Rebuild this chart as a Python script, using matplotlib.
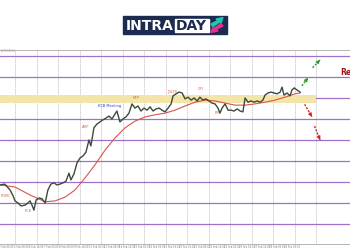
import matplotlib.pyplot as plt
import numpy as np
from matplotlib.patches import Rectangle, Polygon

# -----------------------------------------------------------------------------
# Data (bar index, price)
# -----------------------------------------------------------------------------
price_x = [-7.0, -4.7, -2.3, -0.9, 0.0, 1.4, 2.8, 4.7, 6.0, 7.0, 7.9, 8.8, 9.8,
           11.2, 12.6, 14.0, 15.3, 16.7, 18.1, 19.5, 20.9, 22.3, 23.7, 25.1,
           26.0, 27.4, 28.8, 30.2, 31.6, 33.0, 34.4, 35.3, 36.7, 38.1, 39.5,
           40.9, 42.3, 43.7, 45.1, 46.5, 47.4, 48.8, 50.2, 51.6, 53.0, 54.4,
           55.8, 57.2, 58.6, 60.0, 61.4, 62.8, 64.2, 65.6, 67.0, 68.4, 69.8,
           71.2, 72.6, 73.5, 74.9, 76.3, 77.7, 79.1, 80.5, 81.9, 83.3, 84.7,
           86.0, 87.4, 88.8, 90.2, 91.6, 93.0, 94.4, 95.3, 96.3, 97.7, 99.1,
           100.5, 101.9, 103.3, 104.7, 106.0, 107.0, 108.4, 109.8, 111.2,
           112.6, 114.0, 115.3, 116.3, 117.7, 119.1, 120.5, 121.9, 123.3,
           124.2, 125.1, 126.5, 127.9, 128.8, 129.8, 131.2, 132.6]
price_y = [1.0743, 1.0745, 1.0731, 1.0717, 1.0705, 1.0700, 1.0693, 1.0695,
           1.0700, 1.0705, 1.0695, 1.0683, 1.0707, 1.0712, 1.0710, 1.0700,
           1.0731, 1.0745, 1.0748, 1.0743, 1.0745, 1.0748, 1.0752, 1.0771,
           1.0755, 1.0769, 1.0795, 1.0807, 1.0812, 1.0821, 1.0850, 1.0836,
           1.0879, 1.0888, 1.0893, 1.0898, 1.0902, 1.0907, 1.0900, 1.0912,
           1.0919, 1.0893, 1.0900, 1.0905, 1.0914, 1.0936, 1.0926, 1.0931,
           1.0919, 1.0926, 1.0921, 1.0929, 1.0919, 1.0924, 1.0926, 1.0921,
           1.0917, 1.0926, 1.0936, 1.0955, 1.0960, 1.0964, 1.0962, 1.0948,
           1.0952, 1.0945, 1.0950, 1.0943, 1.0952, 1.0945, 1.0948, 1.0943,
           1.0938, 1.0936, 1.0926, 1.0914, 1.0926, 1.0936, 1.0921, 1.0921,
           1.0919, 1.0924, 1.0919, 1.0917, 1.0950, 1.0940, 1.0943, 1.0940,
           1.0943, 1.0940, 1.0945, 1.0957, 1.0962, 1.0964, 1.0962, 1.0960,
           1.0964, 1.0976, 1.0957, 1.0962, 1.0955, 1.0969, 1.0974, 1.0969,
           1.0964]

ma_x = [-7.0, 0.0, 7.0, 14.0, 18.6, 23.3, 27.9, 32.6, 37.2, 41.9, 46.5, 51.2,
        55.8, 60.5, 65.1, 69.8, 74.4, 79.1, 83.7, 88.4, 93.0, 97.7, 102.3,
        107.0, 111.6, 116.3, 120.9, 125.6, 130.2, 132.6]
ma_y = [1.0743, 1.0738, 1.0719, 1.0703, 1.0705, 1.0714, 1.0731, 1.0760,
        1.0791, 1.0826, 1.0855, 1.0879, 1.0895, 1.0905, 1.0910, 1.0914,
        1.0921, 1.0931, 1.0940, 1.0945, 1.0943, 1.0938, 1.0933, 1.0933,
        1.0936, 1.0940, 1.0945, 1.0952, 1.0960, 1.0962]

levels = [1.1050, 1.1000, 1.0950, 1.0900, 1.0850, 1.0800, 1.0750, 1.0700, 1.0650]
zone = (1.0939, 1.0956)

events = ['FOMC', 'PCE', 'ADP', 'ECB Meeting', 'NFP', 'JOLTS', 'CPI', 'PPI']
event_x = [-6.9, 6.0, 33.0, 44.2, 56.3, 73.0, 86.5, 94.0]
event_y = [1.0717, 1.0681, 1.0881, 1.0931, 1.0950, 1.0964, 1.0971, 1.0914]
event_ha = ['left', 'center', 'center', 'center', 'center', 'center', 'center', 'center']
event_col = ['#e06040', '#e06040', '#e06040', '#3040c0', '#e06040',
             '#e06040', '#e06040', '#e06040']

up_paths = [((133.4, 1.0979), (136.3, 1.0998)), ((138.4, 1.1022), (141.9, 1.1041))]
down_paths = [((134.7, 1.0935), (138.1, 1.0905)), ((139.3, 1.0883), (141.9, 1.0850))]

tick_pos = list(range(-4, 134, 7))
tick_lbl = ['%d Feb %02d:00' % (d, h) for d, h in
            zip([2, 5, 6, 7, 8, 9, 12, 13, 14, 15, 16, 19, 20, 21, 22, 23, 26, 27, 28, 29],
                [0, 8, 16, 0, 8, 16, 0, 8, 16, 0, 8, 16, 0, 8, 16, 0, 8, 16, 0, 8])]

# -----------------------------------------------------------------------------
# Plot
# -----------------------------------------------------------------------------
fig = plt.figure(figsize=(3.5, 2.5), dpi=100)
ax = fig.add_axes([0, 6 / 250, 1, 194 / 250])
ax.set_xlim(-6.98, 155.8)
ax.set_ylim(1.06024, 1.10643)

for x in range(0, 141, 10):
    ax.axvline(x, color='#bbbbbb', lw=0.5, ls=(0, (2, 1)), zorder=1)
for lv in levels:
    ax.axhline(lv, color='#a070c8', lw=0.9, zorder=2)
ax.fill_between([-7, 140], zone[0], zone[1], color='#f3e5a8', zorder=3, lw=0)

ax.plot(ma_x, ma_y, color='#d9534f', lw=0.8, zorder=4)
ax.plot(price_x, price_y, color='#3c4a3c', lw=1.0, zorder=5)

for name, x, y, ha, c in zip(events, event_x, event_y, event_ha, event_col):
    ax.text(x, y, name, color=c, fontsize=2.6, ha=ha, va='center', zorder=6)

# dashed scenario arrows: dashed shaft + solid head
for paths, c in [(up_paths, '#2e9a2e'), (down_paths, '#e02020')]:
    for (a, b) in paths:
        ax.plot([a[0], b[0]], [a[1], b[1]], color=c, lw=1.0, ls=(0, (1.5, 1)), zorder=6)
        tail = (a[0] + 0.7 * (b[0] - a[0]), a[1] + 0.7 * (b[1] - a[1]))
        ax.annotate('', xy=b, xytext=tail, zorder=7,
                    arrowprops=dict(arrowstyle='-|>', color=c, lw=0.8,
                                    mutation_scale=5, shrinkA=0, shrinkB=0))

ax.text(151.2, 1.1010, 'Resistance', color='#a01818', fontsize=5.5,
        fontweight='bold', ha='left', va='center', clip_on=False)
ax.text(-6.8, 1.1062, 'EURUSD,H4', color='#999999', fontsize=1.8, va='center')

ax.set_yticks([])
ax.set_xticks(tick_pos)
ax.set_xticklabels(tick_lbl, fontsize=1.8, color='#777777')
ax.tick_params(axis='x', length=0, pad=1)
for s in ['left', 'right']:
    ax.spines[s].set_visible(False)
for s in ['top', 'bottom']:
    ax.spines[s].set_color('#aaaaaa')
    ax.spines[s].set_linewidth(0.6)

# logo
lg = fig.add_axes([0, 0, 1, 1], zorder=10)
lg.set_xlim(0, 350)
lg.set_ylim(250, 0)
lg.axis('off')
lg.add_patch(Rectangle((123, 15.5), 104, 18.5, color='#1c2b50'))
lg.add_patch(Rectangle((174.5, 18.5), 34, 13, color='white'))
lg.text(150, 25.5, 'INTRA', color='white', fontsize=10, fontweight='bold',
        ha='center', va='center')
lg.text(191.5, 25.5, 'DAY', color='#1c2b50', fontsize=10, fontweight='bold',
        ha='center', va='center')
lg.add_patch(Polygon([(211, 24), (218, 20.5), (216, 19), (223, 17.5),
                      (221, 23), (219.5, 22), (213, 26.5)], color='#1fc7b0'))
lg.add_patch(Polygon([(223, 26), (216, 29.5), (218, 31), (211, 32.5),
                      (213, 27), (214.5, 28), (221, 23.5)], color='#e0338f'))

fig.savefig('out.png', dpi=100)
